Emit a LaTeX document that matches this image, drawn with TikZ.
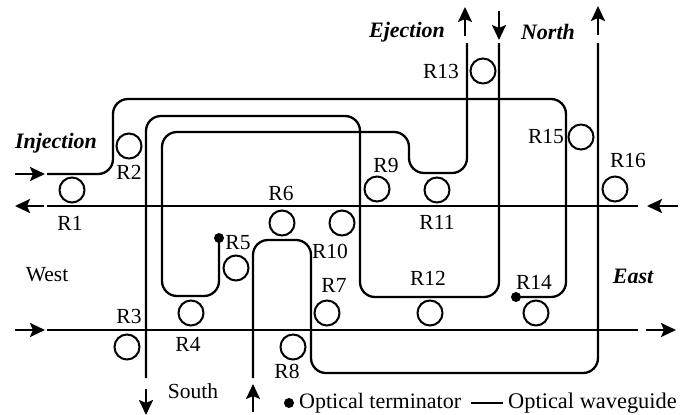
\documentclass[tikz,border=0pt]{standalone}
\usepackage{fontspec}
\setmainfont{Liberation Serif}
\usetikzlibrary{arrows.meta}
\tikzset{
 wg/.style={line width=2.3pt,line join=round,rounded corners=15pt},
 ring/.style={circle,draw,line width=2pt,minimum size=25pt,inner sep=0pt},
 lab/.style={inner sep=0pt,font=\fontsize{21.5}{24}\selectfont},
 blab/.style={inner sep=0pt,font=\fontsize{22}{24}\selectfont\bfseries\itshape},
 flow/.style={line width=2.3pt,-{Stealth[length=15pt,width=14pt,inset=3pt]}},
 term/.style={circle,fill=black,inner sep=0pt,minimum size=10pt}
}
\begin{document}
\begin{tikzpicture}[x=1pt,y=-1pt]
\useasboundingbox (0,0) rectangle (683,415);
% rings
\foreach \n/\x/\y in {r1/72/190,r2/129/146,r3/127/347,r4/191/313,r5/236/268,r6/282/223,r10/342/223,r7/327/313,r8/293/347,r9/377/189,r11/437/190,r12/430/313,r14/536/313,r13/483/71,r15/581/137,r16/615/189}
  \node[ring] (\n) at (\x,\y) {};
% waveguide ends
\coordinate (wl) at (47,206); \coordinate (wr) at (638,206);
\coordinate (sl) at (47,330); \coordinate (sr) at (638,330);
\coordinate (inj) at (47,174);
\coordinate (tA) at (516,297);
\coordinate (tB) at (219,238);
\coordinate (s1) at (146,378);
\coordinate (n1) at (499,43);
\coordinate (e1) at (467,43);
\coordinate (s2) at (253,378);
\coordinate (n2) at (598,43);
% terminators
\node[term] (ta) at (tA) {};
\node[term] (tb) at (tB) {};
% waveguides
\draw[line width=2.3pt] (wl) -- (wr);
\draw[line width=2.3pt] (sl) -- (sr);
\draw[wg] (inj) -- (113,174) -- (113,99) -- (566,99) -- (566,297) -- (ta.center);
\draw[wg] (s1) -- (146,116) -- (360,116) -- (360,297) -- (499,297) -- (n1);
\draw[wg] (tb.center) -- (219,296) -- (162,296) -- (162,132) -- (409,132) -- (409,173) -- (467,173) -- (e1);
\draw[wg] (s2) -- (253,240) -- (311,240) -- (311,373) -- (598,373) -- (n2);
% direction arrows
\coordinate (a1s) at (15,174); \coordinate (a1e) at (45,174);
\coordinate (a2s) at (44,206); \coordinate (a2e) at (15,206);
\coordinate (a3s) at (15,330); \coordinate (a3e) at (45,330);
\coordinate (a4s) at (678,206); \coordinate (a4e) at (647,206);
\coordinate (a5s) at (646,330); \coordinate (a5e) at (676,330);
\coordinate (a6s) at (146,389); \coordinate (a6e) at (146,415);
\coordinate (a7s) at (253,412); \coordinate (a7e) at (253,384);
\coordinate (a8s) at (465,36); \coordinate (a8e) at (465,7);
\coordinate (a9s) at (499,11); \coordinate (a9e) at (499,40);
\coordinate (a10s) at (598,35); \coordinate (a10e) at (598,6);
\foreach \i in {1,...,10} \draw[flow] (a\i s) -- (a\i e);
% labels
\node[lab] (lr1) at (70,223) {R1};
\node[lab] (lr2) at (129,172) {R2};
\node[lab] (lr3) at (129,316) {R3};
\node[lab] (lr4) at (188,344) {R4};
\node[lab] (lr5) at (238,243) {R5};
\node[lab] (lr6) at (281,193) {R6};
\node[lab] (lr10) at (330,251) {R10};
\node[lab] (lr7) at (334,285) {R7};
\node[lab] (lr8) at (287,371) {R8};
\node[lab] (lr9) at (386,165) {R9};
\node[lab] (lr11) at (437,222) {R11};
\node[lab] (lr12) at (428,278) {R12};
\node[lab] (lr13) at (441,71) {R13};
\node[lab] (lr14) at (534,282) {R14};
\node[lab] (lr15) at (546,137) {R15};
\node[lab] (lr16) at (628,160) {R16};
\node[blab] (ninj) at (56,143) {Injection};
\node[blab] (nej) at (407,32) {Ejection};
\node[blab] (nno) at (548,32) {North};
\node[blab] (nea) at (633,276) {East};
\node[lab] (nwe) at (47,275) {West};
\node[lab] (nso) at (193,391) {South};
% legend
\node[term] (lt) at (289,403) {};
\node[lab,anchor=west,font=\fontsize{22}{24}\selectfont] (ltt) at (299,403) {Optical terminator};
\node[lab,anchor=west,font=\fontsize{22.4}{24}\selectfont] (lwt) at (508,403) {Optical waveguide};
\coordinate (lw1) at (471,403);
\draw[line width=2.3pt] (lw1) -- ([xshift=-5pt]lwt.west);
\end{tikzpicture}
\end{document}
